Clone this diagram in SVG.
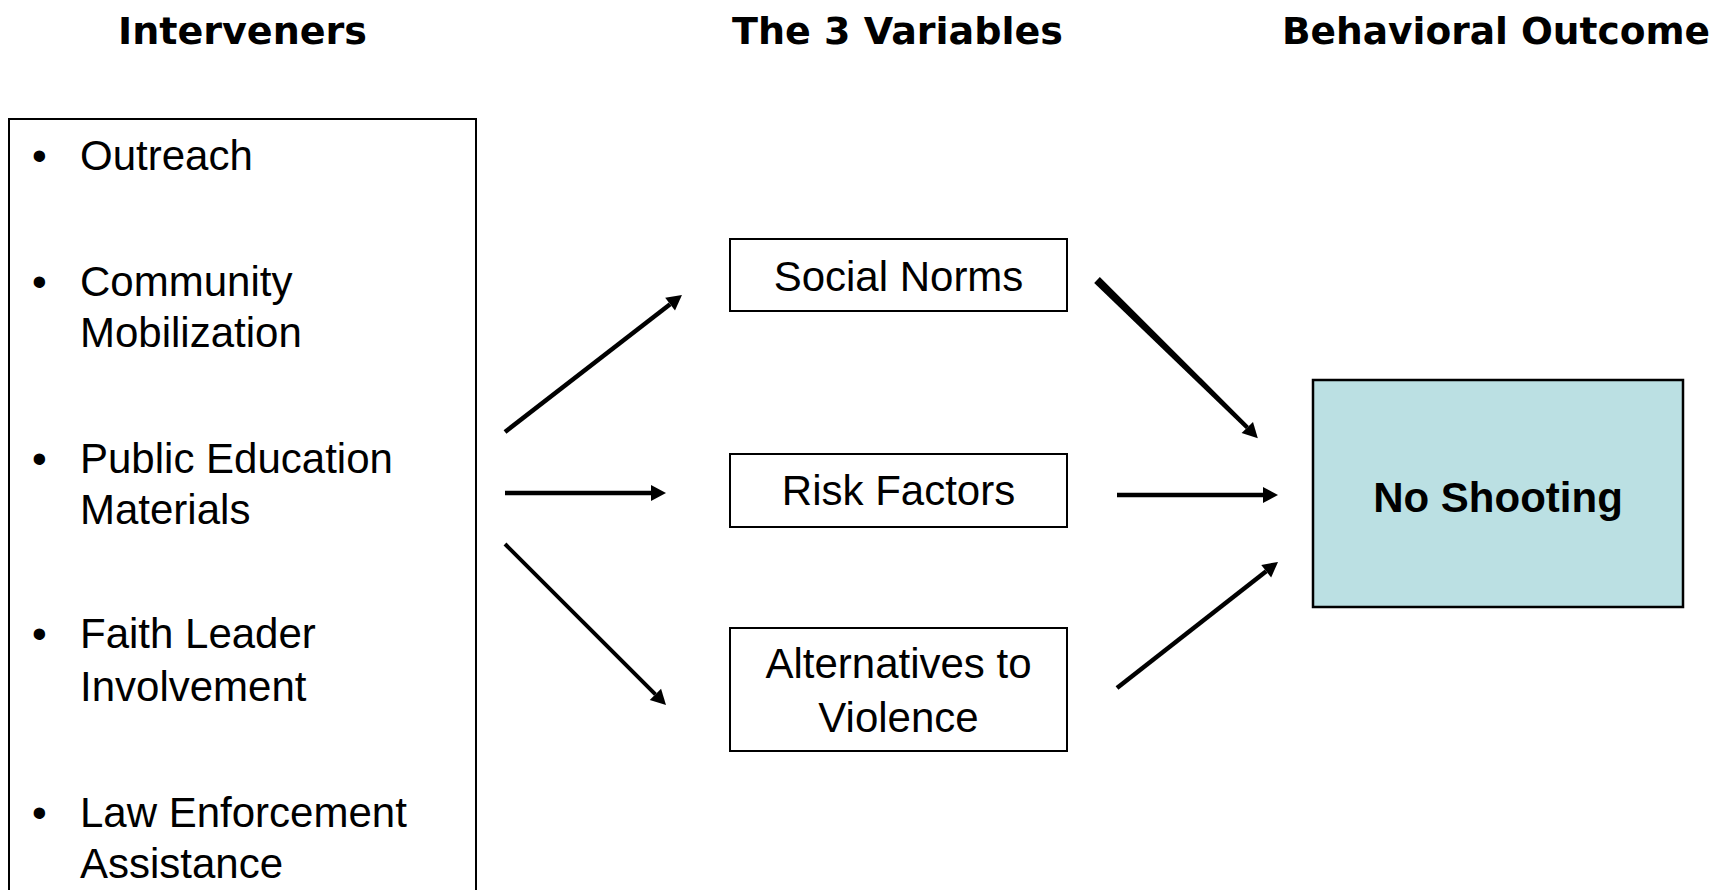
<svg xmlns="http://www.w3.org/2000/svg" width="1730" height="890" viewBox="0 0 1730 890">
<style>
.hdr{font-family:"DejaVu Sans","Liberation Sans",sans-serif;font-weight:bold;font-size:38px;fill:#000}
.txt{font-family:"Liberation Sans",Arial,sans-serif;font-size:42px;fill:#000}
.bold{font-weight:bold}
.box{fill:#fff;stroke:#000;stroke-width:2}
.out{fill:#BBE0E3;stroke:#000;stroke-width:2.5}
.arr{stroke:#000;stroke-width:4.5;fill:none;marker-end:url(#ah)}
</style>
<defs>
<marker id="ah" markerUnits="userSpaceOnUse" viewBox="0 -8 15 16" markerWidth="15" markerHeight="16" refX="0" refY="0" orient="auto" overflow="visible">
<path d="M0,-8 L15,0 L0,8 Z" fill="#000"/>
</marker>
</defs>
<rect width="1730" height="890" fill="#fff"/>
<g id="headers">
<text class="hdr" x="242.5" y="44" text-anchor="middle" textLength="249" lengthAdjust="spacingAndGlyphs">Interveners</text>
<text class="hdr" x="897.5" y="44" text-anchor="middle" textLength="331" lengthAdjust="spacingAndGlyphs">The 3 Variables</text>
<text class="hdr" x="1496" y="44" text-anchor="middle" textLength="428" lengthAdjust="spacingAndGlyphs">Behavioral Outcome</text>
</g>
<g id="interveners">
<rect class="box" x="9" y="119" width="467" height="800"/>
<text class="txt" x="32" y="170">•</text>
<text class="txt" x="80" y="170">Outreach</text>
<text class="txt" x="32" y="296">•</text>
<text class="txt" x="80" y="296">Community</text>
<text class="txt" x="80" y="347">Mobilization</text>
<text class="txt" x="32" y="473">•</text>
<text class="txt" x="80" y="473">Public Education</text>
<text class="txt" x="80" y="524">Materials</text>
<text class="txt" x="32" y="648">•</text>
<text class="txt" x="80" y="648">Faith Leader</text>
<text class="txt" x="80" y="701">Involvement</text>
<text class="txt" x="32" y="827">•</text>
<text class="txt" x="80" y="827">Law Enforcement</text>
<text class="txt" x="80" y="878">Assistance</text>
</g>
<g id="social-norms">
<rect class="box" x="730" y="239" width="337" height="72"/>
<text class="txt" x="898.5" y="291" text-anchor="middle">Social Norms</text>
</g>
<g id="risk-factors">
<rect class="box" x="730" y="454" width="337" height="73"/>
<text class="txt" x="898.5" y="505" text-anchor="middle">Risk Factors</text>
</g>
<g id="alternatives">
<rect class="box" x="730" y="628" width="337" height="123"/>
<text class="txt" x="898.5" y="678" text-anchor="middle">Alternatives to</text>
<text class="txt" x="898.5" y="732" text-anchor="middle">Violence</text>
</g>
<g id="no-shooting">
<rect class="out" x="1313" y="380" width="370" height="227"/>
<text class="txt bold" x="1498" y="512" text-anchor="middle">No Shooting</text>
</g>
<g id="connectors">
<line class="arr" x1="505" y1="432" x2="670.1" y2="304.2"/>
<line class="arr" x1="505" y1="493" x2="651" y2="493"/>
<line class="arr" x1="505" y1="544" x2="655.4" y2="694.4" style="stroke-width:4"/>
<polygon points="1094.2,282.9 1099.8,277.1 1248.8,425.9 1245.8,429.1" fill="#000"/>
<line class="arr" x1="1200" y1="379.5" x2="1247.3" y2="427.5" style="stroke-width:3"/>
<line class="arr" x1="1117" y1="495" x2="1263" y2="495"/>
<line class="arr" x1="1117" y1="688" x2="1266.2" y2="571.2"/>
</g>
</svg>
